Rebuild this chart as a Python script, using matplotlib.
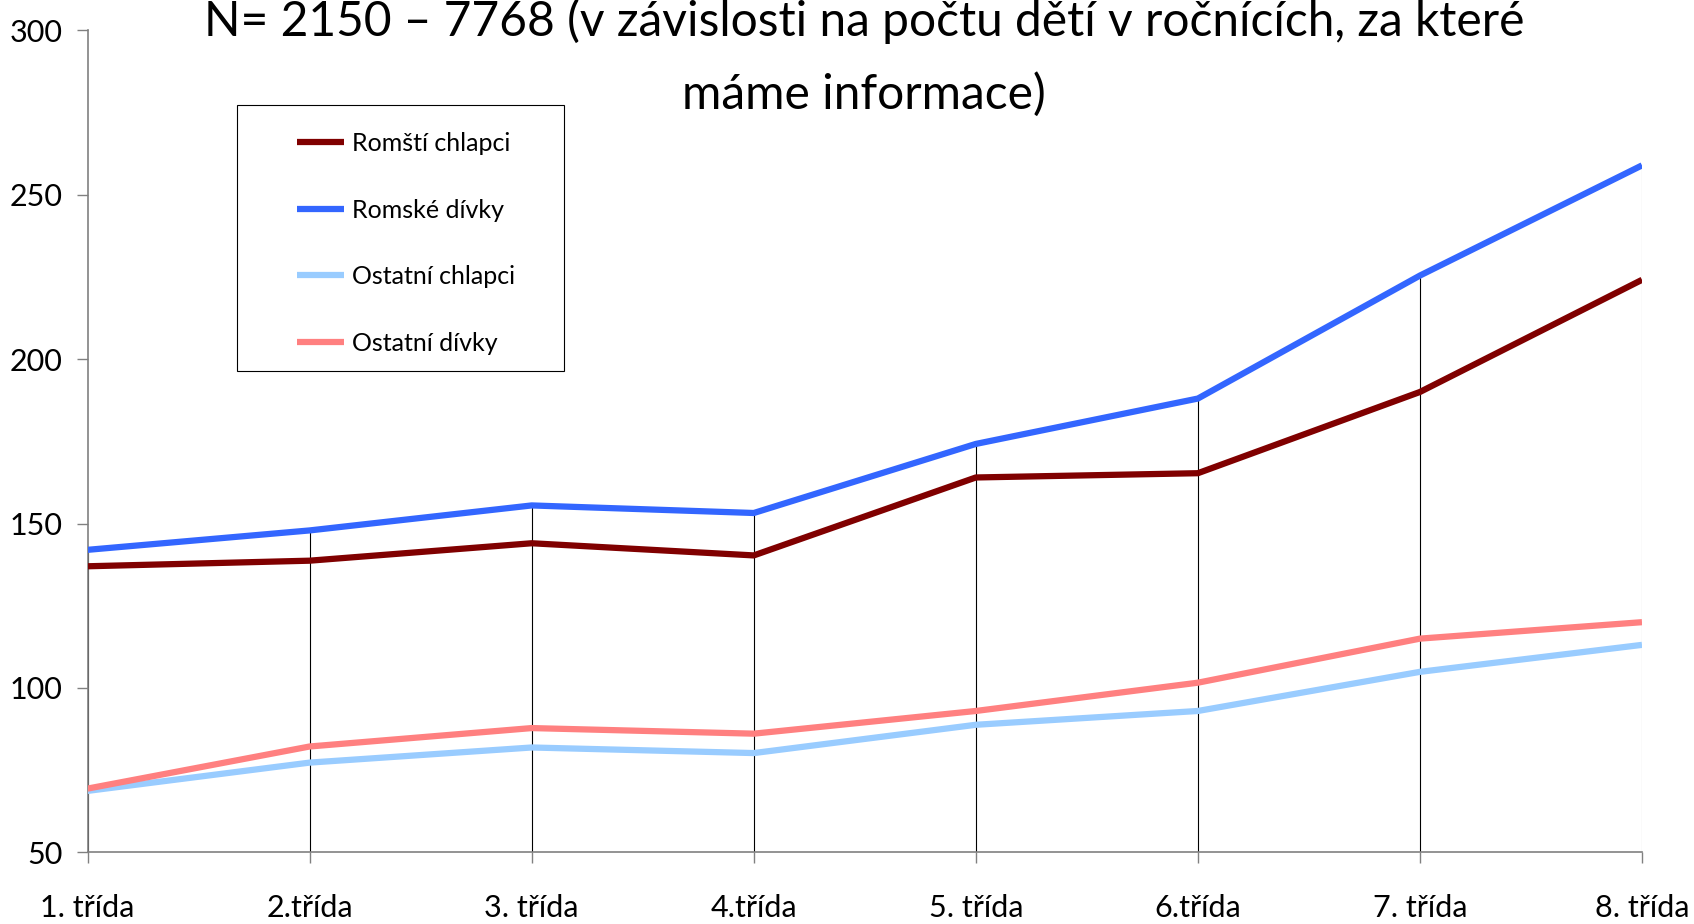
import matplotlib
matplotlib.use("Agg")
import matplotlib.pyplot as plt
from matplotlib.patches import Rectangle

plt.rcParams['font.family'] = ['Lato', 'DejaVu Sans']

categories = ["1. třída", "2.třída", "3. třída", "4.třída", "5. třída", "6.třída", "7. třída", "8. třída"]
romsti_chlapci = [137.0, 138.7, 144.0, 140.3, 164.0, 165.3, 190.0, 224.1]
romske_divky = [142.0, 147.9, 155.5, 153.2, 174.2, 188.0, 225.4, 258.9]
ostatni_chlapci = [68.7, 77.3, 81.9, 80.2, 88.8, 93.0, 104.9, 113.1]
ostatni_divky = [69.4, 82.2, 87.8, 86.1, 93.0, 101.6, 115.0, 120.0]
series_names = ["Romští chlapci", "Romské dívky", "Ostatní chlapci", "Ostatní dívky"]
title = "N= 2150 – 7768 (v závislosti na počtu dětí v ročnících, za které\nmáme informace)"
yticks = [50, 100, 150, 200, 250, 300]

colors = ["#800000", "#3366FF", "#99CCFF", "#FF8080"]
series = [romsti_chlapci, romske_divky, ostatni_chlapci, ostatni_divky]

fig = plt.figure(figsize=(16.94, 9.24), dpi=100)
ax = fig.add_axes([0.0517, 0.0775, 0.9176, 0.8898])

x = list(range(len(categories)))
# drop lines from highest series to the axis
tops = [max(vals) for vals in zip(*series)]
drop_colors = ["black"] * (len(x) - 1) + ["#b0b0b0"]
ax.vlines(x, 50, tops, colors=drop_colors, linewidth=0.8, zorder=1)

for vals, c, name in zip(series, colors, series_names):
    ax.plot(x, vals, color=c, linewidth=4.5, label=name, zorder=3, solid_capstyle="butt")

ax.set_xlim(0, len(categories) - 1)
ax.set_ylim(50, 300)
ax.set_yticks(yticks)
ax.set_xticks(x)
ax.set_xticklabels(categories, fontsize=22)
ax.set_yticklabels([str(t) for t in yticks], fontsize=22)
ax.tick_params(axis="x", length=8, width=1, color="#808080", pad=22)
ax.tick_params(axis="y", length=8, width=1, color="#808080", pad=10)
for s in ["top", "right"]:
    ax.spines[s].set_visible(False)
for s in ["left", "bottom"]:
    ax.spines[s].set_color("#808080")
    ax.spines[s].set_linewidth(1.2)

leg = ax.legend(loc="upper left", bbox_to_anchor=(0.1348, 0.876), fontsize=18,
                frameon=False, handlelength=1.88, handletextpad=0.32,
                labelspacing=1.74, borderpad=0, borderaxespad=0)
ax.add_patch(Rectangle((0.0962, 0.5855), 0.3065 - 0.0962, 0.909 - 0.5855,
                       transform=ax.transAxes, fill=False, edgecolor="black",
                       linewidth=0.8, zorder=5))

fig.text(0.51, 0.9375, title, ha="center", va="center", fontsize=34.5, linespacing=1.76)

fig.savefig("out.png", dpi=100)
